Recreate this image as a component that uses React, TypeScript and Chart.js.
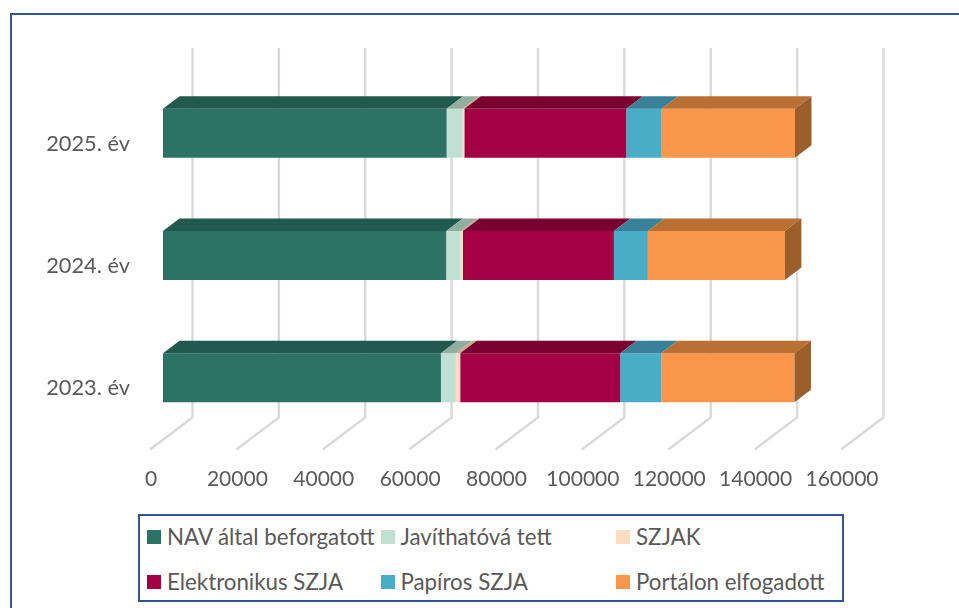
import React, { useEffect, useRef } from "react";
import { Chart, registerables } from "chart.js";

Chart.register(...registerables);

const categories = ["2025. év", "2024. év", "2023. év"];
const seriesNames = ["NAV által beforgatott", "Javíthatóvá tett", "SZJAK", "Elektronikus SZJA", "Papíros SZJA", "Portálon elfogadott"];
const navValues = [65670, 65580, 64350];
const javithatoValues = [3700, 3330, 3470];
const szjakValues = [400, 530, 1000];
const elektronikusValues = [37500, 34960, 37040];
const papirosValues = [8200, 7870, 9490];
const portalValues = [30860, 31720, 30860];
const faceColors = ["#2C7365", "#BFE0D2", "#FDDDC2", "#A50043", "#4AADC8", "#F9964A"];
const topColors = ["#21594E", "#92AE9F", "#C9A98C", "#7A0030", "#398198", "#BB7033"];
const sideColors = ["#1B4A41", "#7F9A8E", "#B0957B", "#60002A", "#2F6C80", "#9C5F2B"];
const FONT = "Lato, sans-serif";
const TEXT = "#595959";
const DEPTH_X = 16.5;
const DEPTH_Y = 12.5;
const WALL_X = 29.5;
const WALL_FLOOR_Y = -21.5;
const FLOOR_FRONT_X = -13;
const FLOOR_FRONT_Y = 10.5;
const WALL_TOP = 48;

const threeD = {
  id: "threeD",
  beforeDatasetsDraw(chart: any) {
    const { ctx, chartArea, scales } = chart;
    const bottom = chartArea.bottom;
    ctx.save();
    ctx.strokeStyle = "#D9D9D9";
    ctx.lineWidth = 2.4;
    ctx.lineJoin = "miter";
    scales.x.ticks.forEach((t: any) => {
      const x = scales.x.getPixelForValue(t.value);
      ctx.beginPath();
      ctx.moveTo(x + WALL_X, WALL_TOP);
      ctx.lineTo(x + WALL_X, bottom + WALL_FLOOR_Y);
      ctx.lineTo(x + FLOOR_FRONT_X, bottom + FLOOR_FRONT_Y);
      ctx.stroke();
    });
    ctx.restore();
  },
  afterDatasetsDraw(chart: any) {
    const { ctx } = chart;
    const n = chart.data.datasets.length;
    ctx.save();
    for (let d = 0; d < n; d++) {
      chart.getDatasetMeta(d).data.forEach((bar: any) => {
        const p = bar.getProps(["x", "y", "base", "height"], true);
        const top = p.y - p.height / 2;
        ctx.fillStyle = topColors[d];
        ctx.beginPath();
        ctx.moveTo(p.base, top);
        ctx.lineTo(p.base + DEPTH_X, top - DEPTH_Y);
        ctx.lineTo(p.x + DEPTH_X, top - DEPTH_Y);
        ctx.lineTo(p.x, top);
        ctx.closePath();
        ctx.fill();
        if (d === n - 1) {
          const bot = p.y + p.height / 2;
          ctx.fillStyle = sideColors[d];
          ctx.beginPath();
          ctx.moveTo(p.x, top);
          ctx.lineTo(p.x + DEPTH_X, top - DEPTH_Y);
          ctx.lineTo(p.x + DEPTH_X, bot - DEPTH_Y);
          ctx.lineTo(p.x, bot);
          ctx.closePath();
          ctx.fill();
        }
      });
    }
    ctx.restore();
  },
};

export default function App() {
  const ref = useRef<HTMLCanvasElement>(null);
  useEffect(() => {
    const values = [navValues, javithatoValues, szjakValues, elektronikusValues, papirosValues, portalValues];
    const chart = new Chart(ref.current as HTMLCanvasElement, {
      type: "bar",
      data: {
        labels: categories,
        datasets: seriesNames.map((label, i) => ({
          label,
          data: values[i],
          backgroundColor: faceColors[i],
          borderWidth: 0,
          categoryPercentage: 1,
          barPercentage: 0.4,
        })),
      },
      plugins: [threeD],
      options: {
        indexAxis: "y",
        responsive: false,
        animation: false,
        layout: { padding: { left: 0, right: 105, top: 72, bottom: 69 } },
        plugins: { legend: { display: false }, tooltip: { enabled: false } },
        scales: {
          x: {
            stacked: true,
            min: 0,
            max: 160000,
            grid: { display: false },
            border: { display: false },
            afterFit(s: any) { s.height = 100; },
            ticks: {
              stepSize: 20000,
              autoSkip: false,
              maxRotation: 0,
              color: TEXT,
              font: { family: FONT, size: 21 },
              labelOffset: -12,
              padding: 20,
              callback: (v: any) => String(v),
            },
          },
          y: {
            stacked: true,
            grid: { display: false },
            border: { display: false },
            afterFit(s: any) { s.width = 163; },
            ticks: {
              color: TEXT,
              font: { family: FONT, size: 21.8 },
              padding: 25,
              labelOffset: 10.5,
            },
          },
        },
      },
    } as any);
    return () => chart.destroy();
  }, []);

  return (
    <div style={{ position: "absolute", left: 0, top: 0, width: 959, height: 608, overflow: "hidden", background: "#fff" }}>
      <canvas ref={ref} width={959} height={608} style={{ position: "absolute", left: 0, top: 0 }} />
      <div style={{ position: "absolute", left: 10, top: 13, right: -10, bottom: -10, border: "2px solid #2F5597", pointerEvents: "none" }} />
      <div style={{ position: "absolute", left: 138, top: 514, width: 702, height: 84, border: "2px solid #2F5597", background: "#fff", fontFamily: FONT, fontSize: 22.3, color: TEXT }}>
        {seriesNames.map((name, i) => (
          <div key={name} style={{ position: "absolute", left: [7, 240.5, 476][i % 3], top: i < 3 ? 8 : 53, display: "flex", alignItems: "center", lineHeight: "26px", whiteSpace: "nowrap" }}>
            <span style={{ width: 14, height: 14, background: faceColors[i], marginRight: 6, display: "inline-block" }} />
            {name}
          </div>
        ))}
      </div>
    </div>
  );
}
